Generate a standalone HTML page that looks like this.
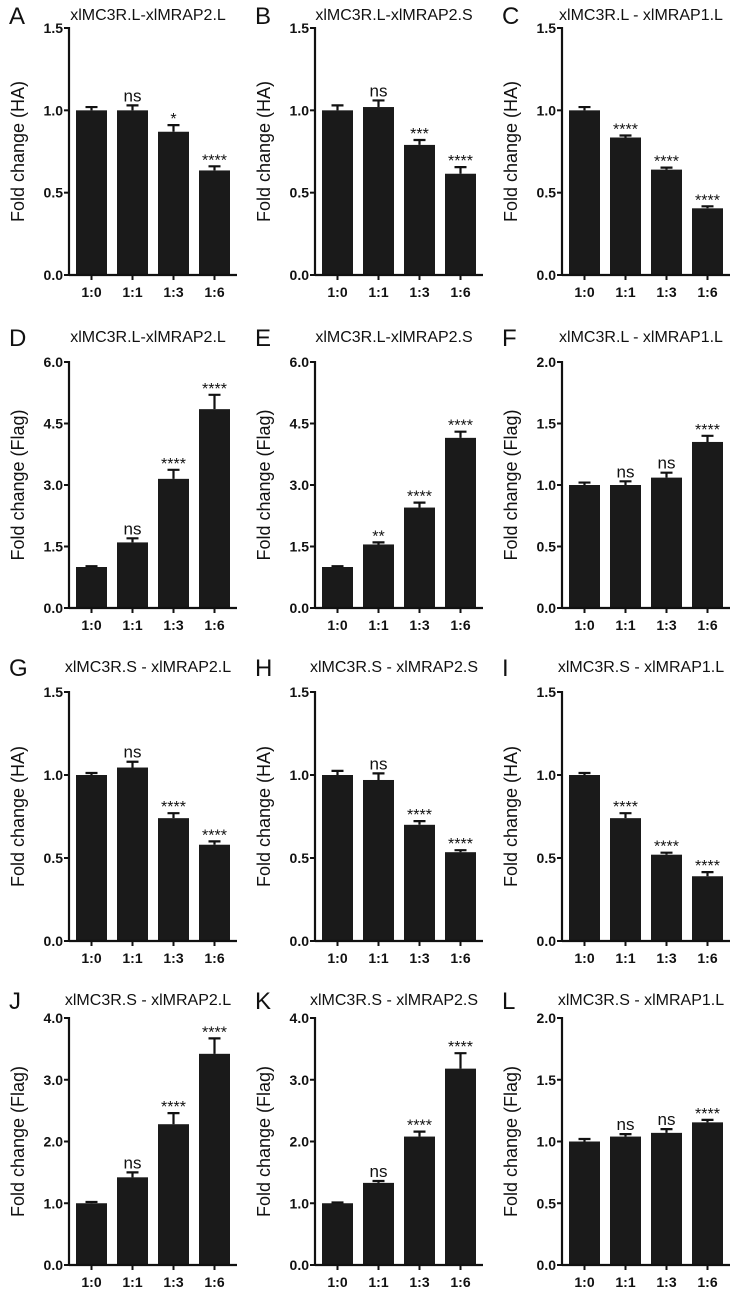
<!DOCTYPE html>
<html><head><meta charset="utf-8"><style>
html,body{margin:0;padding:0;background:#fff;}
svg{display:block;font-family:"Liberation Sans",Arial,sans-serif;}
</style></head><body>
<svg id="fig" width="734" height="1289" viewBox="0 0 734 1289"></svg>
<script>
const categories = ["1:0","1:1","1:3","1:6"];
const letters = ["A","B","C","D","E","F","G","H","I","J","K","L"];
const titles = ["xlMC3R.L-xlMRAP2.L","xlMC3R.L-xlMRAP2.S","xlMC3R.L - xlMRAP1.L","xlMC3R.L-xlMRAP2.L","xlMC3R.L-xlMRAP2.S","xlMC3R.L - xlMRAP1.L","xlMC3R.S - xlMRAP2.L","xlMC3R.S - xlMRAP2.S","xlMC3R.S - xlMRAP1.L","xlMC3R.S - xlMRAP2.L","xlMC3R.S - xlMRAP2.S","xlMC3R.S - xlMRAP1.L"];
const yLabels = ["Fold change (HA)","Fold change (HA)","Fold change (HA)","Fold change (Flag)","Fold change (Flag)","Fold change (Flag)","Fold change (HA)","Fold change (HA)","Fold change (HA)","Fold change (Flag)","Fold change (Flag)","Fold change (Flag)"];
const ticksHA = [0,0.5,1.0,1.5];
const ticks6 = [0,1.5,3.0,4.5,6.0];
const ticks2 = [0,0.5,1.0,1.5,2.0];
const ticks4 = [0,1.0,2.0,3.0,4.0];
const panelTicks = [ticksHA,ticksHA,ticksHA,ticks6,ticks6,ticks2,ticksHA,ticksHA,ticksHA,ticks4,ticks4,ticks2];
const values = [
 [1.0,1.0,0.87,0.635],[1.0,1.02,0.79,0.615],[1.0,0.835,0.64,0.405],
 [1.0,1.6,3.15,4.85],[1.0,1.55,2.45,4.15],[1.0,1.0,1.06,1.35],
 [1.0,1.045,0.74,0.58],[1.0,0.97,0.70,0.535],[1.0,0.74,0.52,0.39],
 [1.0,1.42,2.28,3.42],[1.0,1.33,2.08,3.18],[1.0,1.04,1.07,1.155]];
const errors = [
 [0.02,0.03,0.04,0.025],[0.03,0.04,0.03,0.04],[0.02,0.012,0.012,0.012],
 [0.02,0.1,0.22,0.35],[0.02,0.05,0.12,0.15],[0.02,0.03,0.04,0.05],
 [0.012,0.035,0.03,0.02],[0.025,0.04,0.022,0.012],[0.012,0.03,0.012,0.025],
 [0.02,0.08,0.18,0.25],[0.012,0.03,0.08,0.25],[0.02,0.02,0.03,0.02]];
const annotations = [
 ["","ns","*","****"],["","ns","***","****"],["","****","****","****"],
 ["","ns","****","****"],["","**","****","****"],["","ns","ns","****"],
 ["","ns","****","****"],["","ns","****","****"],["","****","****","****"],
 ["","ns","****","****"],["","ns","****","****"],["","ns","ns","****"]];

const NS="http://www.w3.org/2000/svg";
const svg=document.getElementById('fig');
function mk(tag,attrs,parent,text){const e=document.createElementNS(NS,tag);for(const k in attrs)e.setAttribute(k,attrs[k]);if(text!==undefined)e.textContent=text;(parent||svg).appendChild(e);return e;}
const rowTop=[28,362,692,1018], rowZero=[275,608,941,1265], titleY=[20,342,672,1005];
const colAxis=[69,315,562];
for(let p=0;p<12;p++){
  const r=Math.floor(p/3), c=p%3;
  const ax=colAxis[c], top=rowTop[r], zero=rowZero[r];
  const ticks=panelTicks[p], ymax=ticks[ticks.length-1];
  const yS=v=>zero-(v/ymax)*(zero-top);
  const xS=i=>ax+7+i*41;
  const g=mk('g',{},svg);
  
  
  const L=mk('text',{x:ax-60,y:titleY[r]+4,'font-size':24,fill:'#111'},g,letters[p]);
  
  const T=mk('text',{x:ax+79,y:titleY[r],'font-size':16,'text-anchor':'middle',fill:'#111'},g,titles[p]);
  
  const yl=mk('text',{x:0,y:0,'font-size':18,'text-anchor':'middle',fill:'#111',transform:`translate(${ax-45},${(top+zero)/2}) rotate(-90)`},g,yLabels[p]);
  
  for(let i=0;i<4;i++){
    const v=values[p][i], e=errors[p][i], x=xS(i), w=31;
    const yb=yS(v), ye=yS(v+e), cx=x+w/2;
    const eb=mk('path',{d:`M${cx} ${yb}V${ye}M${cx-6} ${ye}H${cx+6}`,stroke:'#111','stroke-width':2.2,fill:'none'},g);
    
    const b=mk('rect',{x:x,y:yb,width:w,height:zero-yb,fill:'#1a1a1a'},g);
    
    const a=annotations[p][i];
    if(a){const isNs=a==='ns';
      const at=mk('text',{x:cx,y:ye-(isNs?4:1),'font-size':isNs?17:16,'text-anchor':'middle',fill:'#111'},g,a);
      }
    mk('path',{d:`M${cx} ${zero}V${zero+5}`,stroke:'#111','stroke-width':2},g);
    const xl=mk('text',{x:cx,y:zero+22,'font-size':14,'font-weight':'bold','text-anchor':'middle',fill:'#111'},g,categories[i]);
    
  }
  const ya=mk('path',{d:`M${ax} ${top-1}V${zero}M${ax} ${zero}H${ax+168}`,stroke:'#111','stroke-width':2.2,fill:'none'},g);
  
  for(const t of ticks){
    const y=yS(t);
    mk('path',{d:`M${ax-5} ${y}H${ax}`,stroke:'#111','stroke-width':2},g);
    const tl=mk('text',{x:ax-6,y:y+5,'font-size':14,'font-weight':'bold','text-anchor':'end',fill:'#111'},g,t.toFixed(1));
    
  }
}
</script>
</body></html>
